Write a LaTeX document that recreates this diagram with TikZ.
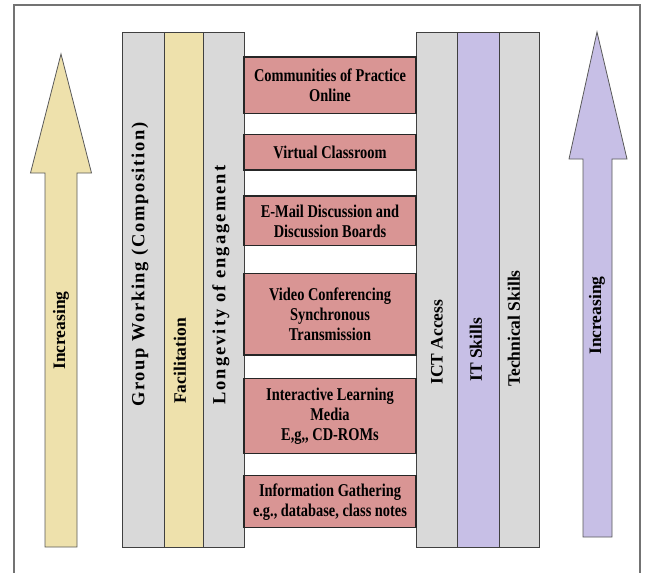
\documentclass[tikz,border=0pt]{standalone}
\usepackage{fontspec}
\setmainfont{Liberation Serif}
\newfontfamily\boxfont{Liberation Serif}[FakeStretch=0.8]
\newfontfamily\widefont{Liberation Serif}[LetterSpace=9]
\newfontfamily\widerfont{Liberation Serif}[LetterSpace=11]
\usepackage{tikz}
\definecolor{bargray}{RGB}{217,217,217}
\definecolor{baryellow}{RGB}{238,225,172}
\definecolor{barpurple}{RGB}{199,191,230}
\definecolor{boxred}{RGB}{217,149,148}

\begin{document}
\begin{tikzpicture}[x=1pt,y=-1pt]
\tikzstyle{every node}+=[inner sep=0pt]
\tikzstyle{bar}=[draw=black!75, line width=1pt, anchor=north west, minimum height=515pt]
\tikzstyle{barlabel}=[rotate=90, anchor=west, font=\fontsize{17.5}{20}\selectfont\bfseries]
\tikzstyle{mode}=[draw=black!85, line width=1.2pt, fill=boxred, minimum width=172pt, align=center, font=\boxfont\fontsize{18}{20}\selectfont\bfseries]
\useasboundingbox (0,0) rectangle (649,573);
% frame
\draw [black!55, line width=1.3pt] (14,580) -- (14,5) -- (640,5) -- (640,580);
% increasing arrows
\draw [black!65, line width=0.8pt, fill=baryellow] (61,54) -- (91.5,173) -- (77,173) -- (77,547) -- (45,547) -- (45,173) -- (30.5,173) -- cycle;
\node [barlabel] (incl) at (61,370) {Increasing};
\draw [black!65, line width=0.8pt, fill=barpurple] (597,32) -- (627,159) -- (612,159) -- (612,537) -- (583,537) -- (583,159) -- (569,159) -- cycle;
\node [barlabel] (incr) at (597,355) {Increasing};
% left group of bars
\node [bar, fill=bargray, minimum width=41.5pt] (group) at (122,32) {};
\node [bar, fill=baryellow, minimum width=39.5pt] (facil) at (163.5,32) {};
\node [bar, fill=bargray, minimum width=41pt] (longev) at (203,32) {};
\node [barlabel, font=\widefont\fontsize{18.5}{20}\selectfont\bfseries] (grouptext) at (140,407) {Group Working (Composition)};
\node [barlabel] (faciltext) at (180,404) {Facilitation};
\node [barlabel, font=\widerfont\fontsize{18.5}{20}\selectfont\bfseries] (longevtext) at (221,405) {Longevity of engagement};
% right group of bars
\node [bar, fill=bargray, minimum width=41pt] (ict) at (416,32) {};
\node [bar, fill=barpurple, minimum width=42pt] (itsk) at (457,32) {};
\node [bar, fill=bargray, minimum width=40pt] (tech) at (499,32) {};
\node [barlabel] (icttext) at (437,385) {ICT Access};
\node [barlabel] (itsktext) at (476,382) {IT Skills};
\node [barlabel] (techtext) at (514,387) {Technical Skills};
% modes of online learning
\node [mode, minimum height=56.3pt] (cop) at (330,85.2) {Communities of Practice\\Online};
\node [mode, minimum height=35.7pt] (virt) at (330,152.2) {Virtual Classroom};
\node [mode, minimum height=49.7pt] (mail) at (330,220.9) {E-Mail Discussion and\\Discussion Boards};
\node [mode, minimum height=81.7pt] (video) at (330,314.2) {Video Conferencing\\Synchronous\\Transmission};
\node [mode, minimum height=75pt] (media) at (330,415.8) {Interactive Learning\\Media\\E,g,, CD-ROMs};
\node [mode, minimum height=52pt] (info) at (330,501.7) {Information Gathering\\e.g., database, class notes};
\end{tikzpicture}
\end{document}
